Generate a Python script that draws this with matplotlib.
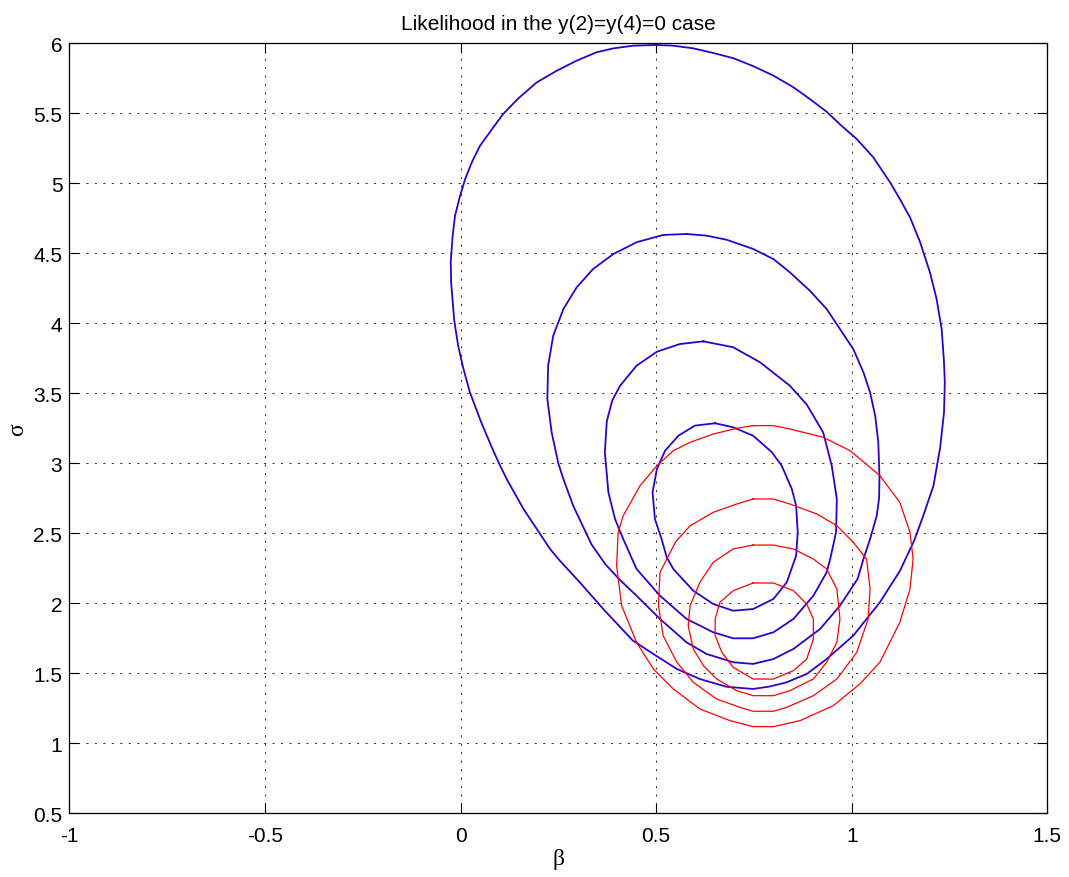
import matplotlib
matplotlib.use("Agg")
from matplotlib import pyplot as plt

# contour lines (beta, sigma), each one closed
blue_1_beta = [0.500, 0.544, 0.595, 0.646, 0.698, 0.749, 0.800, 0.851, 0.893, 0.936, 0.970, 1.013, 1.055,
               1.098, 1.123, 1.149, 1.175, 1.200, 1.217, 1.230, 1.236, 1.238, 1.236, 1.226, 1.209, 1.183,
               1.160, 1.123, 1.072, 1.038, 1.004, 0.936, 0.885, 0.834, 0.791, 0.748, 0.680, 0.612, 0.553,
               0.493, 0.440, 0.365, 0.305, 0.254, 0.229, 0.161, 0.118, 0.100, 0.080, 0.052, 0.024,
               0.007, -0.006, -0.016, -0.024, -0.025, -0.020, -0.014, -0.001, 0.012, 0.029, 0.050, 0.084,
               0.109, 0.148, 0.195, 0.246, 0.297, 0.348, 0.391, 0.442, 0.500]
blue_1_sigma = [5.988, 5.983, 5.964, 5.931, 5.893, 5.836, 5.769, 5.686, 5.602, 5.511, 5.421, 5.316, 5.186,
                5.007, 4.888, 4.757, 4.579, 4.364, 4.174, 3.959, 3.721, 3.578, 3.364, 3.110, 2.840, 2.626,
                2.450, 2.230, 2.007, 1.888, 1.769, 1.602, 1.495, 1.436, 1.406, 1.388, 1.404, 1.459, 1.531,
                1.638, 1.735, 1.959, 2.150, 2.304, 2.388, 2.674, 2.888, 2.990, 3.114, 3.300, 3.507,
                3.680, 3.840, 4.020, 4.293, 4.440, 4.626, 4.769, 4.911, 5.031, 5.150, 5.269, 5.400,
                5.495, 5.607, 5.721, 5.804, 5.876, 5.936, 5.964, 5.983, 5.988]

blue_2_beta = [0.578, 0.629, 0.680, 0.748, 0.800, 0.842, 0.893, 0.936, 0.970, 1.004, 1.030, 1.047, 1.060,
               1.068, 1.071, 1.070, 1.064, 1.047, 1.030, 1.015, 0.970, 0.919, 0.851, 0.800, 0.748, 0.697,
               0.629, 0.578, 0.510, 0.450, 0.405, 0.370, 0.335, 0.288, 0.263, 0.250, 0.233, 0.222, 0.224,
               0.237, 0.263, 0.297, 0.339, 0.391, 0.450, 0.518, 0.578]
blue_2_sigma = [4.638, 4.626, 4.597, 4.531, 4.459, 4.364, 4.233, 4.102, 3.959, 3.816, 3.650, 3.507, 3.340,
                3.150, 2.900, 2.750, 2.626, 2.459, 2.316, 2.174, 1.983, 1.816, 1.674, 1.602, 1.567, 1.579,
                1.638, 1.721, 1.888, 2.054, 2.174, 2.280, 2.420, 2.697, 2.888, 3.000, 3.221, 3.459, 3.697,
                3.911, 4.102, 4.257, 4.388, 4.495, 4.579, 4.631, 4.638]

blue_3_beta = [0.621, 0.697, 0.766, 0.842, 0.885, 0.927, 0.949, 0.962, 0.960, 0.945, 0.936, 0.902, 0.851,
               0.800, 0.748, 0.697, 0.646, 0.578, 0.510, 0.450, 0.416, 0.395, 0.378, 0.369, 0.374, 0.388,
               0.408, 0.450, 0.502, 0.561, 0.621]
blue_3_sigma = [3.871, 3.829, 3.721, 3.554, 3.420, 3.221, 2.983, 2.745, 2.507, 2.316, 2.221, 2.054, 1.888,
                1.793, 1.750, 1.750, 1.793, 1.888, 2.054, 2.245, 2.459, 2.602, 2.793, 3.079, 3.300, 3.450,
                3.554, 3.697, 3.797, 3.852, 3.871]

blue_4_beta = [0.651, 0.697, 0.748, 0.796, 0.821, 0.847, 0.858, 0.862, 0.858, 0.834, 0.800, 0.748, 0.697,
               0.646, 0.595, 0.544, 0.527, 0.514, 0.497, 0.491, 0.502, 0.523, 0.557, 0.599, 0.651]
blue_4_sigma = [3.286, 3.257, 3.197, 3.079, 2.983, 2.816, 2.697, 2.507, 2.340, 2.150, 2.031, 1.959, 1.947,
                1.995, 2.090, 2.245, 2.330, 2.459, 2.602, 2.793, 2.959, 3.090, 3.197, 3.269, 3.286]

red_1_beta = [0.748, 0.800, 0.842, 0.927, 0.996, 1.072, 1.123, 1.149, 1.157, 1.149, 1.123, 1.072, 1.021,
              0.953, 0.868, 0.800, 0.748, 0.689, 0.612, 0.544, 0.493, 0.450, 0.412, 0.399, 0.403, 0.416,
              0.459, 0.502, 0.544, 0.587, 0.646, 0.706, 0.748]
red_1_sigma = [3.269, 3.269, 3.245, 3.186, 3.090, 2.912, 2.721, 2.507, 2.316, 2.102, 1.864, 1.579, 1.424,
               1.269, 1.162, 1.119, 1.119, 1.162, 1.245, 1.388, 1.531, 1.721, 1.983, 2.269, 2.507, 2.626,
               2.840, 2.983, 3.090, 3.150, 3.209, 3.250, 3.269]

red_2_beta = [0.748, 0.800, 0.842, 0.911, 0.962, 1.004, 1.038, 1.047, 1.042, 1.013, 0.962, 0.902, 0.834,
              0.800, 0.748, 0.714, 0.655, 0.595, 0.553, 0.518, 0.506, 0.510, 0.550, 0.587, 0.646, 0.706,
              0.748]
red_2_sigma = [2.745, 2.745, 2.709, 2.638, 2.554, 2.436, 2.316, 2.102, 1.888, 1.650, 1.459, 1.340, 1.257,
               1.229, 1.229, 1.257, 1.316, 1.436, 1.579, 1.769, 1.983, 2.221, 2.440, 2.554, 2.650, 2.709,
               2.745]

red_3_beta = [0.748, 0.800, 0.851, 0.902, 0.936, 0.962, 0.970, 0.962, 0.936, 0.902, 0.842, 0.800, 0.748,
              0.706, 0.655, 0.621, 0.595, 0.582, 0.587, 0.612, 0.646, 0.697, 0.748]
red_3_sigma = [2.416, 2.416, 2.388, 2.316, 2.245, 2.102, 1.888, 1.721, 1.579, 1.459, 1.376, 1.340, 1.340,
               1.376, 1.459, 1.555, 1.674, 1.840, 1.983, 2.150, 2.293, 2.388, 2.416]

red_4_beta = [0.748, 0.800, 0.851, 0.885, 0.902, 0.902, 0.885, 0.851, 0.800, 0.748, 0.697, 0.668, 0.651,
              0.651, 0.663, 0.697, 0.748]
red_4_sigma = [2.145, 2.145, 2.090, 1.995, 1.888, 1.745, 1.602, 1.519, 1.459, 1.459, 1.543, 1.650, 1.769,
               1.888, 2.007, 2.090, 2.145]

x_ticks = [-1, -0.5, 0, 0.5, 1, 1.5]
x_tick_labels = ["-1", "-0.5", "0", "0.5", "1", "1.5"]
y_ticks = [0.5, 1, 1.5, 2, 2.5, 3, 3.5, 4, 4.5, 5, 5.5, 6]
y_tick_labels = ["0.5", "1", "1.5", "2", "2.5", "3", "3.5", "4", "4.5", "5", "5.5", "6"]

plt.rcParams['font.family'] = ['Liberation Sans', 'DejaVu Sans']

fig = plt.figure(figsize=(10.69, 8.78), dpi=100)
ax = fig.add_axes([69.3 / 1069, 63.7 / 878, 978 / 1069, 770 / 878])

blue = '#3000cc'
for b, s in [(blue_1_beta, blue_1_sigma), (blue_2_beta, blue_2_sigma),
             (blue_3_beta, blue_3_sigma), (blue_4_beta, blue_4_sigma)]:
    ax.plot(b, s, color=blue, linewidth=1.3)

for b, s in [(red_1_beta, red_1_sigma), (red_2_beta, red_2_sigma),
             (red_3_beta, red_3_sigma), (red_4_beta, red_4_sigma)]:
    ax.plot(b, s, color='#ff0000', linewidth=0.9)

ax.set_xlim(-1, 1.5)
ax.set_ylim(0.5, 6)
ax.set_xticks(x_ticks)
ax.set_xticklabels(x_tick_labels)
ax.set_yticks(y_ticks)
ax.set_yticklabels(y_tick_labels)
ax.tick_params(direction='in', length=7, width=0.8, labelsize=15,
               top=True, right=True)
ax.tick_params(axis='x', pad=9)
ax.tick_params(axis='y', pad=5)
ax.grid(True, color='#333333', linewidth=0.7, linestyle=(0, (2.2, 6.5)))
for spine in ax.spines.values():
    spine.set_linewidth(0.9)

ax.set_title("Likelihood in the y(2)=y(4)=0 case", fontsize=15, pad=10)
ax.set_xlabel("β", family=['Liberation Serif', 'DejaVu Serif'], fontsize=17, labelpad=2)
ax.set_ylabel("σ", family=['Liberation Serif', 'DejaVu Serif'], fontsize=17, labelpad=4)

fig.savefig("out.png", dpi=100)
